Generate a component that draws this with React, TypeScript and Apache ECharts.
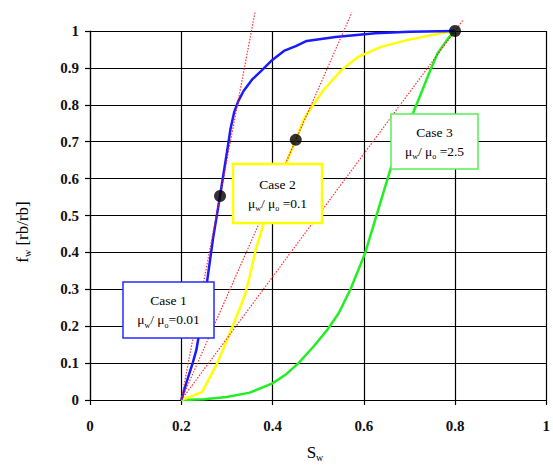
import React, { useEffect, useRef } from "react";
import * as echarts from "echarts";

const xTicks = [0, 0.2, 0.4, 0.6, 0.8, 1];
const yTicks = [0, 0.1, 0.2, 0.3, 0.4, 0.5, 0.6, 0.7, 0.8, 0.9, 1];

// Case 1: mu_w/mu_o = 0.01
const case1: [number, number][] = [
  [0.2, 0], [0.211, 0.046], [0.225, 0.1], [0.233, 0.135], [0.245, 0.22],
  [0.257, 0.325], [0.27, 0.44], [0.285, 0.553], [0.301, 0.678], [0.308, 0.735],
  [0.316, 0.78], [0.325, 0.81], [0.337, 0.838], [0.355, 0.868], [0.377, 0.894],
  [0.399, 0.921], [0.425, 0.946], [0.451, 0.959], [0.475, 0.973], [0.538, 0.984],
  [0.625, 0.994], [0.7, 0.998], [0.8, 1],
];
// Case 2: mu_w/mu_o = 0.1
const case2: [number, number][] = [
  [0.2, 0], [0.222, 0.01], [0.246, 0.022], [0.262, 0.06], [0.279, 0.1],
  [0.296, 0.15], [0.312, 0.198], [0.327, 0.245], [0.341, 0.29], [0.352, 0.345],
  [0.363, 0.406], [0.381, 0.48], [0.4, 0.545], [0.42, 0.612], [0.442, 0.678],
  [0.451, 0.705], [0.468, 0.759], [0.486, 0.794], [0.512, 0.84], [0.551, 0.894],
  [0.588, 0.93], [0.638, 0.957], [0.697, 0.976], [0.769, 0.994], [0.8, 1],
];
// Case 3: mu_w/mu_o = 2.5
const case3: [number, number][] = [
  [0.2, 0], [0.25, 0.002], [0.3, 0.008], [0.35, 0.02], [0.4, 0.045],
  [0.43, 0.07], [0.457, 0.1], [0.49, 0.145], [0.52, 0.19], [0.545, 0.235],
  [0.571, 0.3], [0.603, 0.398], [0.627, 0.496], [0.645, 0.57], [0.66, 0.631],
  [0.685, 0.71], [0.708, 0.778], [0.722, 0.82], [0.747, 0.897], [0.762, 0.94],
  [0.785, 0.98], [0.8, 1],
];
// Welge tangent lines from (Swc, 0)
const tangent1: [number, number][] = [[0.2, 0], [0.3615, 1.05]];
const tangent2: [number, number][] = [[0.2, 0], [0.574, 1.05]];
const tangent3: [number, number][] = [[0.2, 0], [0.818, 1.03]];
// Tangent points (shock front)
const shockPoints: [number, number][] = [[0.285, 0.553], [0.451, 0.705], [0.8, 1]];

const SERIF = "'Liberation Serif', 'Times New Roman', serif";

function boxText(caseLabel: string, ratio: string) {
  return `{t|${caseLabel}}\n{t|μ}{s|w}{t|/ μ}{s|o}{t|${ratio}}`;
}

const rich = {
  t: { fontFamily: SERIF, fontSize: 13.5, color: "#111", lineHeight: 19 },
  s: { fontFamily: SERIF, fontSize: 8, color: "#111", lineHeight: 19, verticalAlign: "bottom" },
};

function annotation(x: number, y: number, w: number, h: number, color: string, lw: number, text: string) {
  return {
    type: "group",
    x,
    y,
    z: 100,
    children: [
      { type: "rect", z: 100, shape: { x: 0, y: 0, width: w, height: h }, style: { fill: "#fff", stroke: color, lineWidth: lw } },
      {
        type: "text",
        z: 101,
        x: w / 2,
        y: h / 2,
        style: { text, align: "center", verticalAlign: "middle", rich },
      },
    ],
  };
}

export default function App() {
  const ref = useRef<HTMLDivElement>(null);
  useEffect(() => {
    if (!ref.current) return;
    const chart = echarts.init(ref.current, null, { renderer: "svg" });
    const tickLabel = { fontFamily: SERIF, fontSize: 15, fontWeight: "bold", color: "#111" };
    const redLine = { color: "#ff1a1a", width: 1.2, type: [1.5, 1.5], opacity: 0.9 };
    chart.setOption({
      animation: false,
      backgroundColor: "#fff",
      grid: { left: 90, right: 4, top: 31, bottom: 66, containLabel: false },
      xAxis: {
        type: "value",
        min: xTicks[0],
        max: xTicks[xTicks.length - 1],
        interval: 0.2,
        axisLine: { show: true, onZero: false, lineStyle: { color: "#000", width: 1.2 } },
        axisTick: { show: true, length: 5, lineStyle: { color: "#000", width: 1.2 } },
        axisLabel: { ...tickLabel, margin: 18, formatter: (v: number) => String(+v.toFixed(1)) },
        splitLine: { show: true, lineStyle: { color: "#000", width: 1.2 } },
      },
      yAxis: {
        type: "value",
        min: yTicks[0],
        max: yTicks[yTicks.length - 1],
        interval: 0.1,
        axisLine: { show: true, onZero: false, lineStyle: { color: "#000", width: 1.2 } },
        axisTick: { show: true, length: 5, lineStyle: { color: "#000", width: 1.2 } },
        axisLabel: { ...tickLabel, margin: 11, formatter: (v: number) => String(+v.toFixed(1)) },
        splitLine: { show: true, lineStyle: { color: "#000", width: 1.2 } },
      },
      graphic: [
        annotation(123, 282, 91, 56, "#2a2aff", 1.5, boxText("Case 1", "=0.01")),
        annotation(233, 164, 89, 59, "#ffff00", 2.5, boxText("Case 2", " =0.1")),
        annotation(391, 114, 87, 55, "#55ee55", 1.5, boxText("Case 3", " =2.5")),
        {
          type: "text",
          x: 315,
          y: 452,
          z: 100,
          style: {
            text: "{a|S}{b|w}",
            align: "center",
            verticalAlign: "middle",
            rich: {
              a: { fontFamily: SERIF, fontSize: 17, color: "#111", lineHeight: 20 },
              b: { fontFamily: SERIF, fontSize: 10, color: "#111", lineHeight: 20, verticalAlign: "bottom" },
            },
          },
        },
        {
          type: "text",
          x: 22,
          y: 232,
          rotation: Math.PI / 2,
          z: 100,
          style: {
            text: "{a|f}{b|w}{a| [rb/rb]}",
            align: "center",
            verticalAlign: "middle",
            rich: {
              a: { fontFamily: SERIF, fontSize: 17, color: "#111", lineHeight: 20 },
              b: { fontFamily: SERIF, fontSize: 10, color: "#111", lineHeight: 20, verticalAlign: "bottom" },
            },
          },
        },
      ],
      series: [
        { type: "line", data: case3, showSymbol: false, clip: false, z: 3, lineStyle: { color: "#22ee22", width: 2.5 } },
        { type: "line", data: case2, showSymbol: false, clip: false, z: 3, lineStyle: { color: "#ffff00", width: 2.5 } },
        { type: "line", data: case1, showSymbol: false, clip: false, z: 3, lineStyle: { color: "#1a1aff", width: 2.5 } },
        { type: "line", data: tangent1, showSymbol: false, clip: false, z: 4, lineStyle: redLine },
        { type: "line", data: tangent2, showSymbol: false, clip: false, z: 4, lineStyle: redLine },
        { type: "line", data: tangent3, showSymbol: false, clip: false, z: 4, lineStyle: redLine },
        { type: "scatter", data: shockPoints, symbolSize: 12, clip: false, z: 5, itemStyle: { color: "#000" } },
      ],
    });
    return () => chart.dispose();
  }, []);
  return (
    <div
      ref={ref}
      style={{ position: "fixed", left: 0, top: 0, width: 553, height: 466, background: "#fff" }}
    />
  );
}
